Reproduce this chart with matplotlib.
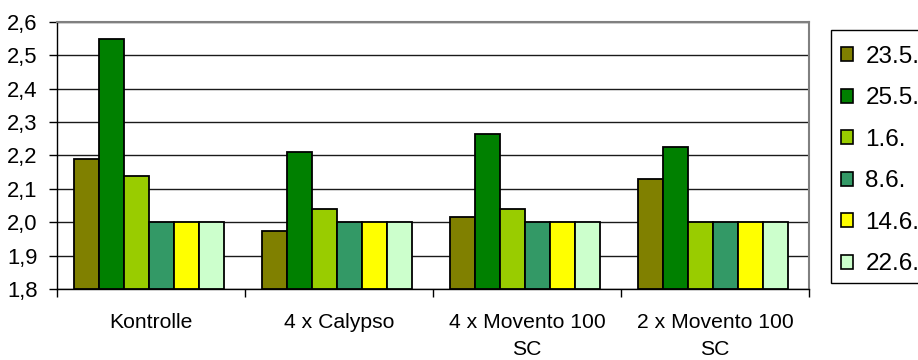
import matplotlib
matplotlib.use("Agg")
import matplotlib.pyplot as plt
from matplotlib.patches import Rectangle, Patch
import numpy as np

plt.rcParams['font.family'] = ['Liberation Sans', 'DejaVu Sans']

categories = ["Kontrolle", "4 x Calypso", "4 x Movento 100\nSC", "2 x Movento 100\nSC"]
series_names = ["23.5.", "25.5.", "1.6.", "8.6.", "14.6.", "22.6."]
values = {
    "23.5.": [2.19, 1.975, 2.015, 2.13],
    "25.5.": [2.55, 2.21, 2.265, 2.225],
    "1.6.":  [2.14, 2.04, 2.04, 2.00],
    "8.6.":  [2.00, 2.00, 2.00, 2.00],
    "14.6.": [2.00, 2.00, 2.00, 2.00],
    "22.6.": [2.00, 2.00, 2.00, 2.00],
}
colors = ["#808000", "#008000", "#99CC00", "#339966", "#FFFF00", "#CCFFCC"]
yticks = [1.8, 1.9, 2.0, 2.1, 2.2, 2.3, 2.4, 2.5, 2.6]
ytick_labels = ["1,8", "1,9", "2,0", "2,1", "2,2", "2,3", "2,4", "2,5", "2,6"]

W, H = 918, 360
fig = plt.figure(figsize=(W / 100, H / 100), dpi=100)
ax = fig.add_axes([57 / W, 1 - 289 / H, (809 - 57) / W, (289 - 22) / H])

fs = 15.2
x = np.arange(len(categories))
bw = 25 / 188
n = len(series_names)
base = 1.8
for i, (name, c) in enumerate(zip(series_names, colors)):
    off = (i - (n - 1) / 2) * bw - 0.01
    v = np.array(values[name])
    ax.bar(x + off, v - base, bottom=base, width=bw, color=c,
           edgecolor="black", linewidth=1.3, zorder=3)

ax.set_xlim(-0.5, len(categories) - 0.5)
ax.set_ylim(1.8, 2.6)
ax.set_yticks(yticks)
ax.set_yticklabels(ytick_labels, fontsize=fs + 0.6)
ax.yaxis.grid(True, color="#1a1a1a", linewidth=1.0, zorder=0)
ax.set_axisbelow(True)

ax.set_xticks(np.arange(len(categories) + 1) - 0.5)
ax.set_xticklabels([])
ax.set_xticks(x, minor=True)
ax.set_xticklabels(categories, minor=True, fontsize=fs, linespacing=1.55)
ax.tick_params(axis="x", which="minor", length=0, pad=17)
ax.tick_params(axis="x", which="major", direction="out", length=6, width=1, color="black")
ax.tick_params(axis="y", direction="out", length=6, width=1, pad=8, color="black")

for s in ["top", "right"]:
    ax.spines[s].set_color("#808080")
    ax.spines[s].set_linewidth(1.5)
for s in ["left", "bottom"]:
    ax.spines[s].set_color("black")
    ax.spines[s].set_linewidth(1.0)

# legend frame (extends beyond the right edge)
fig.patches.append(Rectangle((831 / W, 1 - 283 / H), 120 / W, (283 - 30) / H,
                             transform=fig.transFigure, facecolor="white",
                             edgecolor="black", linewidth=1.0, clip_on=False))
handles = [Patch(facecolor=c, edgecolor="black", linewidth=1.2) for c in colors]
leg = fig.legend(handles, series_names, loc="upper left",
                 bbox_to_anchor=(841 / W, 1 - 46 / H), frameon=False,
                 fontsize=17.5, handlelength=0.5, handleheight=0.5,
                 handletextpad=0.5, labelspacing=0.8, borderpad=0, borderaxespad=0)

fig.savefig("out.png", dpi=100)
